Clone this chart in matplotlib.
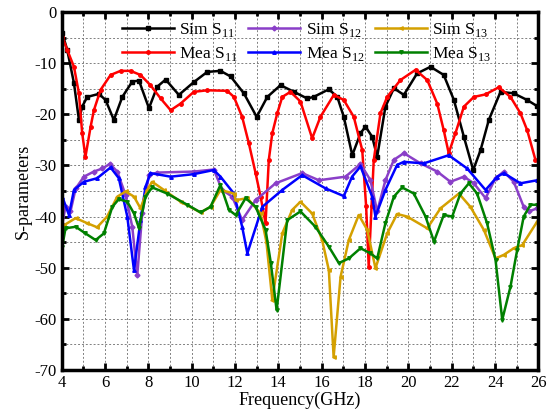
import matplotlib
matplotlib.use('Agg')
import matplotlib.pyplot as plt
from matplotlib.ticker import MultipleLocator

plt.rcParams['font.family'] = ['Liberation Serif', 'DejaVu Serif']
plt.rcParams['mathtext.fontset'] = 'custom'
plt.rcParams['mathtext.rm'] = 'Liberation Serif'
plt.rcParams['axes.unicode_minus'] = False

# --- dados ---
sim_s11_f = [4.03, 4.26, 4.57, 4.8, 4.95, 5.18, 5.72, 6.03, 6.41, 6.8, 7.26, 7.57, 8.03, 8.41, 8.8,
             9.41, 10.1, 10.72, 11.33, 11.8, 12.41, 13.0, 13.49, 14.1, 14.72, 15.33, 15.63, 16.33,
             16.72, 17.02, 17.41, 17.79, 18.02, 18.33, 18.56, 18.94, 19.33, 19.79, 20.4, 21.02,
             21.63, 22.1, 22.56, 22.99, 23.33, 23.71, 24.25, 24.86, 25.48, 25.94]
sim_s11 = [-4.1, -7.4, -13.9, -21.1, -18.5, -16.6, -16.0, -17.2, -21.1, -16.6, -13.6, -13.4, -18.8,
           -14.6, -13.2, -16.2, -13.7, -11.7, -11.5, -12.6, -15.9, -20.5, -16.6, -14.3, -15.6,
           -16.9, -16.6, -15.1, -16.6, -20.5, -28.0, -23.7, -22.4, -24.4, -28.3, -18.5, -14.9,
           -16.2, -12.0, -10.7, -12.3, -17.2, -24.4, -30.9, -27.0, -21.1, -15.6, -15.9, -17.2,
           -18.4]

mea_s11_f = [4.03, 4.26, 4.57, 4.8, 4.95, 5.1, 5.34, 5.49, 5.8, 6.26, 6.72, 7.18, 7.64, 8.1, 8.57,
             9.03, 9.49, 10.1, 10.72, 11.64, 11.95, 12.33, 12.64, 12.95, 13.18, 13.41, 13.56,
             13.72, 13.95, 14.18, 14.56, 15.02, 15.56, 15.94, 16.56, 17.02, 17.48, 17.87, 18.05,
             18.17, 18.3, 18.4, 18.71, 19.02, 19.63, 20.33, 20.87, 21.33, 21.63, 21.86, 22.17,
             22.56, 23.02, 23.56, 24.17, 24.71, 25.17, 25.48, 25.86]
mea_s11 = [-4.8, -7.4, -10.7, -15.9, -23.7, -28.3, -22.4, -19.2, -15.2, -12.3, -11.5, -11.5, -12.3,
           -14.3, -16.9, -19.2, -17.9, -15.6, -15.3, -15.4, -16.6, -20.5, -25.7, -31.5, -36.1,
           -41.3, -28.9, -23.7, -19.8, -16.6, -15.6, -17.5, -24.7, -20.5, -16.2, -17.2, -20.5,
           -27.0, -38.0, -49.8, -38.0, -29.0, -19.8, -16.6, -13.3, -11.3, -13.3, -17.9, -23.1,
           -27.6, -23.7, -18.5, -16.6, -16.1, -14.7, -16.6, -19.8, -23.1, -28.9]

sim_s12_f = [4.03, 4.18, 4.41, 4.65, 5.03, 5.49, 5.88, 6.23, 6.57, 6.95, 7.26, 7.49, 7.72, 8.03,
             8.41, 10.1, 11.02, 11.41, 11.87, 12.33, 12.95, 13.87, 15.1, 15.87, 17.1, 17.79, 18.25,
             18.56, 18.94, 19.33, 19.79, 20.56, 21.33, 21.94, 22.56, 23.02, 23.56, 24.02, 24.4,
             24.86, 25.32, 25.55, 25.94]
sim_s12 = [-41.5, -38.1, -39.0, -34.5, -32.2, -31.2, -30.6, -29.7, -31.2, -35.8, -42.0, -51.5,
           -39.4, -31.9, -31.4, -31.2, -30.8, -34.8, -36.1, -40.7, -36.8, -33.5, -31.5, -32.9,
           -32.2, -29.7, -32.9, -39.0, -32.9, -28.9, -27.6, -29.6, -31.2, -33.2, -32.2, -33.5,
           -36.4, -32.5, -31.2, -33.2, -38.1, -39.0, -38.4]

mea_s12_f = [4.03, 4.34, 4.57, 5.03, 5.64, 6.26, 6.64, 7.03, 7.34, 7.64, 7.87, 8.1, 9.03, 10.1,
             11.02, 11.33, 11.95, 12.33, 12.57, 13.26, 14.18, 15.1, 16.18, 17.02, 17.4, 17.79,
             18.33, 18.48, 18.94, 19.48, 19.79, 20.71, 21.86, 22.71, 23.56, 24.1, 24.4, 25.17,
             25.94]
mea_s12 = [-36.1, -39.7, -34.8, -33.2, -32.5, -30.4, -32.5, -40.0, -50.5, -40.7, -34.2, -31.5,
           -32.2, -31.7, -30.9, -32.2, -35.5, -42.0, -47.2, -38.1, -34.8, -31.9, -34.5, -36.0,
           -32.2, -30.2, -36.1, -40.0, -34.8, -29.9, -29.3, -29.6, -28.0, -30.6, -34.8, -32.2,
           -31.5, -33.5, -32.9]

sim_s13_f = [4.03, 4.11, 4.65, 5.18, 5.64, 6.1, 6.57, 6.95, 7.34, 7.64, 7.95, 8.18, 8.72, 9.49,
             10.41, 10.87, 11.33, 11.95, 12.03, 12.57, 13.18, 13.45, 13.72, 14.18, 14.64, 15.02,
             15.56, 16.02, 16.33, 16.55, 16.87, 17.25, 17.71, 18.1, 18.48, 19.02, 19.48, 19.94,
             20.87, 21.48, 22.33, 22.86, 23.48, 24.02, 24.4, 24.86, 25.25, 25.94]
sim_s13 = [-42.5, -41.7, -40.3, -41.3, -42.1, -40.0, -36.1, -35.1, -36.1, -38.4, -34.8, -33.2,
           -34.8, -37.1, -39.2, -38.1, -34.8, -35.5, -36.8, -36.4, -39.4, -45.0, -56.3, -43.3,
           -38.7, -37.1, -39.4, -44.6, -50.5, -67.5, -51.8, -44.6, -39.7, -42.6, -50.1, -43.3,
           -39.5, -40.0, -42.3, -38.4, -35.5, -38.1, -42.6, -48.2, -47.5, -46.2, -45.6, -41.0]

mea_s13_f = [4.03, 4.18, 4.65, 5.1, 5.57, 5.95, 6.34, 6.64, 7.03, 7.34, 7.57, 7.87, 8.18, 8.87,
             9.8, 10.41, 10.87, 11.33, 11.72, 12.03, 12.49, 12.95, 13.41, 13.65, 13.92, 14.41,
             15.02, 15.71, 16.33, 16.79, 17.25, 17.79, 18.25, 18.56, 18.94, 19.33, 19.71, 20.25,
             20.79, 21.18, 21.63, 22.02, 22.4, 22.79, 23.17, 23.63, 24.02, 24.33, 24.71, 25.02,
             25.32, 25.63, 25.94]
mea_s13 = [-45.9, -42.3, -42.0, -43.3, -44.6, -43.3, -38.1, -36.6, -37.1, -39.4, -42.3, -36.1,
           -34.3, -35.5, -37.7, -39.2, -38.1, -33.8, -38.7, -39.7, -36.4, -38.1, -42.6, -49.0,
           -58.3, -40.7, -39.0, -42.0, -45.9, -49.1, -48.2, -46.2, -47.2, -48.2, -41.3, -36.1,
           -34.3, -35.5, -40.0, -44.9, -39.7, -40.0, -35.5, -33.5, -35.5, -41.3, -48.5, -60.2,
           -53.7, -46.5, -40.0, -37.7, -37.7]

# ordem por coluna para a legenda ficar Sim na 1a linha e Mea na 2a
series = [
    (sim_s11_f, sim_s11, 'black', 's', 'Sim S$_{11}$'),
    (mea_s11_f, mea_s11, 'red', 'o', 'Mea S$_{11}$'),
    (sim_s12_f, sim_s12, '#8a3fc8', 'D', 'Sim S$_{12}$'),
    (mea_s12_f, mea_s12, 'blue', '^', 'Mea S$_{12}$'),
    (sim_s13_f, sim_s13, '#d4a000', '<', 'Sim S$_{13}$'),
    (mea_s13_f, mea_s13, 'green', 'v', 'Mea S$_{13}$'),
]

fig = plt.figure(figsize=(5.5, 4.17), dpi=100)
ax = fig.add_axes([0.112, 0.113, 0.867, 0.858])

for f, s, cor, mk, rotulo in series:
    ax.plot(f, s, color=cor, marker=mk, markersize=2.5, linewidth=1.8, label=rotulo)

ax.set_xlim(4, 26)
ax.set_ylim(-70, 0)
ax.xaxis.set_major_locator(MultipleLocator(2))
ax.xaxis.set_minor_locator(MultipleLocator(1))
ax.yaxis.set_major_locator(MultipleLocator(10))
ax.yaxis.set_minor_locator(MultipleLocator(5))

# grade pontilhada em todos os marcadores (maiores e menores)
ax.grid(which='both', linestyle=(0, (2, 2)), color='gray', linewidth=0.7)
ax.set_axisbelow(True)

ax.tick_params(which='both', direction='in', top=True, right=True, labelsize=12, width=2)
ax.tick_params(which='major', length=5)
ax.tick_params(which='minor', length=3)
for sp in ax.spines.values():
    sp.set_linewidth(2.5)

ax.set_xlabel('Frequency(GHz)', fontsize=13, labelpad=1)
ax.set_ylabel('S-parameters', fontsize=13, labelpad=2)

ax.legend(ncol=3, loc='upper left', bbox_to_anchor=(0.105, 1.005), frameon=False,
          fontsize=12.5, handlelength=3.0, handletextpad=0.3, columnspacing=0.6,
          labelspacing=0.35, borderaxespad=0.2)

fig.savefig('out.png', dpi=100)
plt.close(fig)
